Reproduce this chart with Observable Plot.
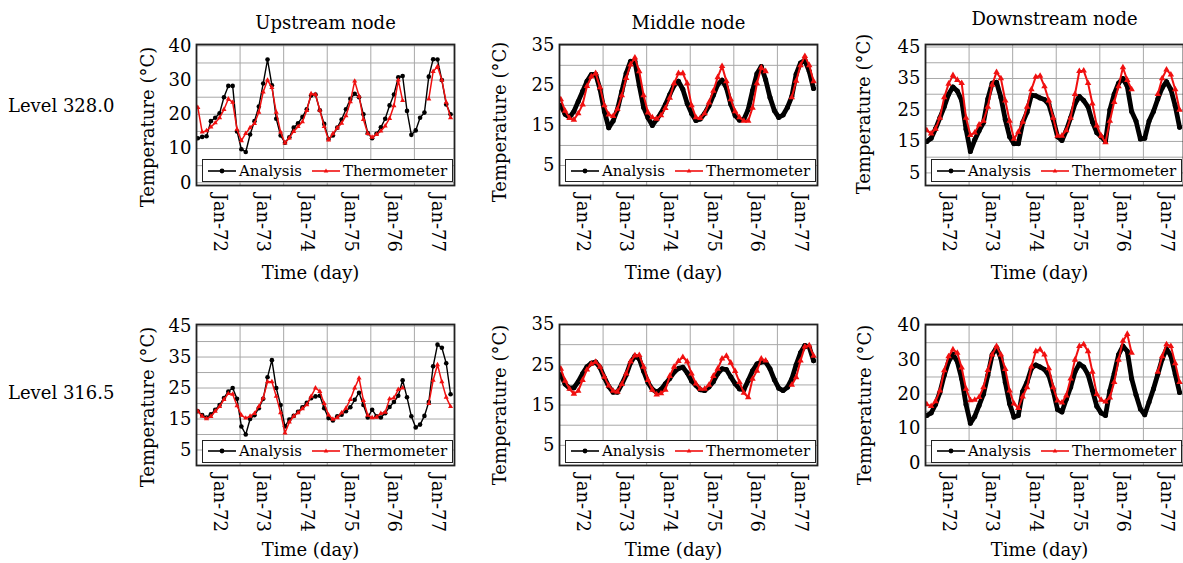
<!DOCTYPE html>
<html><head><meta charset="utf-8">
<script src="https://cdn.jsdelivr.net/npm/d3@7"></script>
<script src="https://cdn.jsdelivr.net/npm/@observablehq/plot@0.6"></script>
<style>
html,body{margin:0;padding:0;background:#fff;overflow:hidden;width:1183px;height:563px;}
body{position:relative;font-family:"DejaVu Serif",serif;color:#000;}
.panel{position:absolute;}
.panel svg{max-width:none !important;display:block;}
.rowlabel{position:absolute;left:8px;font-size:18px;line-height:20px;white-space:nowrap;}
.legend{position:absolute;box-sizing:border-box;height:23px;border:1px solid #222;background:#fff;
  display:flex;align-items:center;font-size:15px;white-space:nowrap;overflow:hidden;padding-left:5px;}
.legend svg{display:block;margin-right:3px;}
.legend .gap{width:10px;}
</style></head><body>
<script>
// sample times (decimal years)
const sampleYears = [1971.5,1971.6,1971.7,1971.8,1971.9,1972.0,1972.1,1972.2,1972.3,1972.4,
  1972.5,1972.6,1972.7,1972.8,1972.9,1973.0,1973.1,1973.2,1973.3,1973.4,
  1973.5,1973.6,1973.7,1973.8,1973.9,1974.0,1974.1,1974.2,1974.3,1974.4,
  1974.5,1974.6,1974.7,1974.8,1974.9,1975.0,1975.1,1975.2,1975.3,1975.4,
  1975.5,1975.6,1975.7,1975.8,1975.9,1976.0,1976.1,1976.2,1976.3,1976.4,
  1976.5,1976.6,1976.7,1976.8,1976.9,1977.0,1977.1,1977.2,1977.3];
const tickYears = [1972,1973,1974,1975,1976,1977];
const tickLabels = ["Jan-72","Jan-73","Jan-74","Jan-75","Jan-76","Jan-77"];
const gridYears = [1972.47,1973.47,1974.47,1975.47,1976.47];
const xDomain = [1971.47,1977.39];

// Level 328.0
const up328Analysis = [13.0,13.4,13.6,18.0,19.0,20.3,25.0,28.3,28.3,15.0,9.8,9.0,14.1,18.0,22.3,29.0,36.0,28.5,18.7,13.8,11.7,13.3,16.1,17.4,19.2,21.5,25.5,25.8,21.2,17.2,12.8,13.8,16.1,18.5,21.5,24.5,26.0,25.0,20.0,14.5,13.0,14.3,16.2,18.7,22.6,25.8,30.8,31.2,21.0,14.0,15.3,19.0,20.5,31.0,36.1,36.0,30.0,22.9,20.0];
const up328Thermo = [22.0,14.8,15.2,16.3,17.5,19.0,21.4,24.5,23.5,15.6,12.3,14.4,16.1,17.3,20.6,26.5,30.0,27.8,20.6,14.8,11.6,13.1,15.0,16.4,17.8,21.1,26.0,25.8,21.2,16.4,12.5,14.3,16.0,17.4,19.6,23.7,29.7,25.3,18.5,14.4,13.3,14.1,15.1,16.6,18.8,22.5,30.0,24.0,null,null,null,null,null,24.5,32.5,34.0,30.0,23.5,19.0];
const mid328Analysis = [20.0,17.8,17.0,18.5,21.0,23.5,26.0,27.7,27.8,24.0,18.5,14.4,16.1,19.0,23.5,28.0,31.0,31.0,25.0,19.5,16.9,15.0,16.5,18.1,20.2,22.7,25.0,26.0,24.0,20.5,18.0,16.2,16.6,18.0,19.9,22.5,25.2,26.3,24.4,20.3,17.5,16.3,16.5,19.0,23.7,27.9,29.7,26.4,22.0,18.7,17.0,17.6,19.5,22.2,27.8,30.6,31.3,28.5,24.2];
const mid328Thermo = [21.5,18.6,16.8,16.4,18.0,20.2,24.8,27.2,28.0,24.5,20.0,17.7,17.3,19.1,22.5,26.8,30.2,31.9,28.5,22.5,18.2,17.0,16.6,17.5,19.3,21.9,25.5,28.0,28.0,25.5,20.0,17.0,16.8,18.0,20.7,23.6,27.0,29.8,26.0,21.5,18.5,17.0,16.1,16.1,19.4,25.5,29.4,28.5,null,null,null,null,null,22.0,26.1,30.0,32.3,30.0,26.0];
const down328Analysis = [15.0,16.0,19.0,22.5,26.0,30.0,32.3,31.0,28.0,18.9,11.8,15.5,18.4,21.0,28.5,33.5,33.8,29.0,22.0,16.5,14.3,14.3,21.0,24.3,29.7,29.5,28.8,28.3,26.8,22.0,16.5,15.3,18.5,22.5,27.0,29.3,28.0,26.0,21.2,17.8,16.5,15.0,25.0,30.0,33.5,35.0,32.5,24.5,21.5,15.8,16.0,21.5,24.5,28.5,32.0,34.0,31.5,26.3,19.5];
const down328Thermo = [18.5,17.5,19.0,22.5,29.0,33.3,36.0,34.5,33.5,22.5,17.0,17.8,20.3,21.5,26.0,33.0,37.0,35.0,28.0,21.5,15.8,18.0,21.2,26.0,31.5,35.5,35.8,32.5,28.0,22.5,16.8,16.8,18.5,22.5,30.0,37.3,37.5,33.5,27.0,20.0,16.8,14.7,21.5,27.5,32.5,38.5,34.5,31.5,null,null,null,null,null,30.0,35.0,37.8,36.2,31.5,25.0];
// Level 316.5
const up316Analysis = [17.5,16.3,15.5,16.5,18.0,19.5,21.8,23.9,25.0,21.5,12.6,10.0,15.0,16.2,18.5,21.5,28.5,34.0,25.0,19.5,12.6,14.8,16.0,17.3,18.8,20.2,21.7,22.3,22.5,18.5,15.3,14.5,15.9,16.4,17.5,18.8,21.2,23.5,19.5,15.5,18.0,15.9,15.5,16.9,18.9,20.5,22.5,27.5,22.0,15.9,12.3,13.2,16.0,20.5,32.0,39.0,38.0,33.0,23.0];
const up316Thermo = [17.5,15.9,15.1,15.8,17.5,19.0,21.3,23.2,23.0,19.3,16.2,15.3,15.9,16.8,19.0,21.8,27.0,27.0,22.3,17.0,10.5,14.0,15.9,17.0,18.3,19.6,22.3,25.0,23.9,20.0,16.3,14.9,15.4,17.0,18.5,21.3,25.0,28.2,21.0,16.2,15.4,15.6,16.8,17.2,21.5,21.8,24.5,25.0,null,null,null,null,null,20.0,27.5,32.5,27.0,22.0,19.0];
const mid316Analysis = [22.5,20.2,19.2,19.3,20.8,22.8,24.5,25.4,25.7,24.3,21.8,19.6,18.2,18.2,20.2,22.5,25.5,27.2,26.5,23.4,20.6,18.9,18.2,18.9,20.3,21.6,23.2,24.1,24.4,23.0,21.0,19.9,18.8,18.6,19.5,20.8,22.8,24.0,23.8,22.0,20.3,19.0,18.8,21.1,23.5,25.2,25.7,25.7,24.0,21.3,19.2,18.6,19.4,21.5,25.0,28.0,29.8,29.4,26.0];
const mid316Thermo = [24.0,21.0,19.0,17.8,18.5,21.2,23.8,25.2,25.7,24.5,22.0,19.8,18.5,18.3,20.2,22.8,25.8,27.3,27.4,24.5,21.2,18.8,17.6,17.9,18.8,22.2,24.5,25.9,26.9,25.8,22.8,20.3,19.0,19.0,20.0,22.2,24.0,26.5,27.2,25.5,23.4,20.7,18.0,16.9,21.5,23.5,26.5,26.0,null,null,null,null,null,20.0,21.9,26.0,29.5,29.8,27.2];
const down316Analysis = [13.8,14.5,17.0,20.5,25.5,29.5,31.6,29.5,24.5,17.0,11.5,13.5,16.7,20.0,25.5,31.5,33.6,30.5,23.5,17.2,13.3,13.8,20.8,23.5,27.5,28.5,27.9,27.2,25.4,21.0,15.5,14.8,18.5,22.0,26.5,28.8,27.9,25.7,21.1,16.5,14.5,13.8,21.0,26.0,31.5,34.0,32.5,24.5,19.8,15.7,14.0,17.7,21.5,25.8,30.2,33.2,31.2,25.9,20.5];
const down316Thermo = [17.0,16.5,17.9,21.0,26.9,31.0,33.0,32.0,27.7,21.5,18.2,18.3,19.1,22.0,27.0,31.5,34.0,31.5,27.3,21.0,17.2,15.9,19.3,22.0,28.0,32.5,33.0,31.5,27.5,22.0,18.1,17.5,19.6,24.5,30.0,34.0,34.5,32.5,26.5,20.0,18.3,17.8,19.0,23.5,30.0,35.5,37.5,32.0,null,null,null,null,null,26.5,31.0,34.5,34.0,29.0,23.5];

const rowLabels = ["Level 328.0","Level 316.5"];
const colTitles = ["Upstream node","Middle node","Downstream node"];

const panels = [
  {row:0,col:0,analysis:up328Analysis,thermo:up328Thermo,dense:false,yDomain:[-0.8,40.4],yTicks:[0,10,20,30,40],yLabelDx:-48,yLabelDy:12,titleDy:-21},
  {row:0,col:1,analysis:mid328Analysis,thermo:mid328Thermo,dense:true,yDomain:[0,35.2],yTicks:[5,15,25,35],yLabelDx:-59,yLabelDy:7,titleDy:-21},
  {row:0,col:2,analysis:down328Analysis,thermo:down328Thermo,dense:true,yDomain:[1.0,45.8],yTicks:[5,15,25,35,45],yLabelDx:-61,yLabelDy:-1,titleDy:-25},
  {row:1,col:0,analysis:up316Analysis,thermo:up316Thermo,dense:false,yDomain:[0,45.5],yTicks:[5,15,25,35,45],yLabelDx:-48,yLabelDy:12},
  {row:1,col:1,analysis:mid316Analysis,thermo:mid316Thermo,dense:true,yDomain:[0,35],yTicks:[5,15,25,35],yLabelDx:-59,yLabelDy:10},
  {row:1,col:2,analysis:down316Analysis,thermo:down316Thermo,dense:true,yDomain:[-0.8,40.3],yTicks:[0,10,20,30,40],yLabelDx:-60,yLabelDy:10}
];

const frameLeft = [196,559,925];
const frameTop = [43.5,324];
const xLabelDy = [88,85];
const W = 258, H = 141, mL = 72, mR = 14, mT = 40, mB = 100;
const RED = "#f01010";
const FS = 18;

function sampleRows(values){ return sampleYears.map((year,i)=>({year, temp: values[i]})); }

for (const p of panels) {
  const anal = sampleRows(p.analysis);
  const therm = sampleRows(p.thermo);
  const yGrid = d3.range(Math.ceil(p.yDomain[0]/5)*5, p.yDomain[1]+0.01, 5).filter(v=>v>p.yDomain[0]+0.5);
  const marks = [
    Plot.gridY({ticks: yGrid, stroke:"#a8a8a8", strokeOpacity:1, strokeWidth:1}),
    Plot.gridX({ticks: gridYears, stroke:"#a8a8a8", strokeOpacity:1, strokeWidth:1}),
    Plot.line(anal, {x:"year", y:"temp", stroke:"#000", strokeWidth: p.dense?4.8:1.4, clip:true}),
    Plot.dot(anal, {x:"year", y:"temp", r: p.dense?2.5:2.3, fill:"#000", clip:true}),
    Plot.line(therm, {x:"year", y:"temp", stroke:RED, strokeWidth: p.dense?2:1.5, clip:true}),
    Plot.dot(therm, {x:"year", y:"temp", symbol:"triangle", r: p.dense?2.4:1.9, fill:RED, clip:true}),
    Plot.frame({stroke:"#222", strokeWidth:1.8}),
    Plot.axisY({ticks:p.yTicks, tickSize:0, tickPadding:5, label:null, fontSize:FS}),
    Plot.axisX({ticks:tickYears, tickFormat:d=>tickLabels[tickYears.indexOf(d)], tickRotate:90, tickSize:0, tickPadding:8, label:null, fontSize:FS}),
    Plot.text(["Temperature (°C)"], {frameAnchor:"left", textAnchor:"middle", lineAnchor:"middle", dx:p.yLabelDx, dy:p.yLabelDy, rotate:-90, fontSize:FS}),
    Plot.text(["Time (day)"], {frameAnchor:"bottom", textAnchor:"middle", lineAnchor:"middle", dx:-15, dy:xLabelDy[p.row], fontSize:FS})
  ];
  if (p.row === 0) marks.push(Plot.text([colTitles[p.col]], {frameAnchor:"top", textAnchor:"middle", lineAnchor:"middle", dy:p.titleDy, fontSize:FS}));
  const svg = Plot.plot({
    width: W+mL+mR, height: H+mT+mB,
    marginLeft:mL, marginRight:mR, marginTop:mT, marginBottom:mB,
    x:{domain:xDomain}, y:{domain:p.yDomain},
    style:{fontFamily:'"DejaVu Serif", serif', fontSize:FS+"px", color:"#000", background:"transparent", overflow:"visible", maxWidth:"none"},
    marks
  });
  svg.style.maxWidth = "none";
  const wrap = document.createElement("div");
  wrap.className = "panel";
  wrap.style.left = (frameLeft[p.col]-mL)+"px";
  wrap.style.top = (frameTop[p.row]-mT)+"px";
  wrap.style.width = (W+mL+mR)+"px";
  wrap.appendChild(svg);
  document.body.appendChild(wrap);

  // legend box inside the frame
  const lg = document.createElement("div");
  lg.className = "legend";
  lg.style.left = (frameLeft[p.col]+6)+"px";
  lg.style.top = (frameTop[p.row]+H-2.5-23)+"px";
  lg.style.width = "251px";
  lg.innerHTML =
    '<svg width="28" height="10"><line x1="0" y1="5" x2="28" y2="5" stroke="#000" stroke-width="1.6"/><circle cx="14" cy="5" r="2.4" fill="#000"/></svg>' +
    '<span>Analysis</span><span class="gap"></span>' +
    '<svg width="28" height="10"><line x1="0" y1="5" x2="28" y2="5" stroke="'+RED+'" stroke-width="1.6"/><path d="M14,2.4 L16.3,6.5 L11.7,6.5 Z" fill="'+RED+'"/></svg>' +
    '<span>Thermometer</span>';
  document.body.appendChild(lg);
}

rowLabels.forEach((t,i)=>{
  const d = document.createElement("div");
  d.className = "rowlabel";
  d.textContent = t;
  d.style.top = ([106,393][i]-10)+"px";
  document.body.appendChild(d);
});
</script>
</body></html>
